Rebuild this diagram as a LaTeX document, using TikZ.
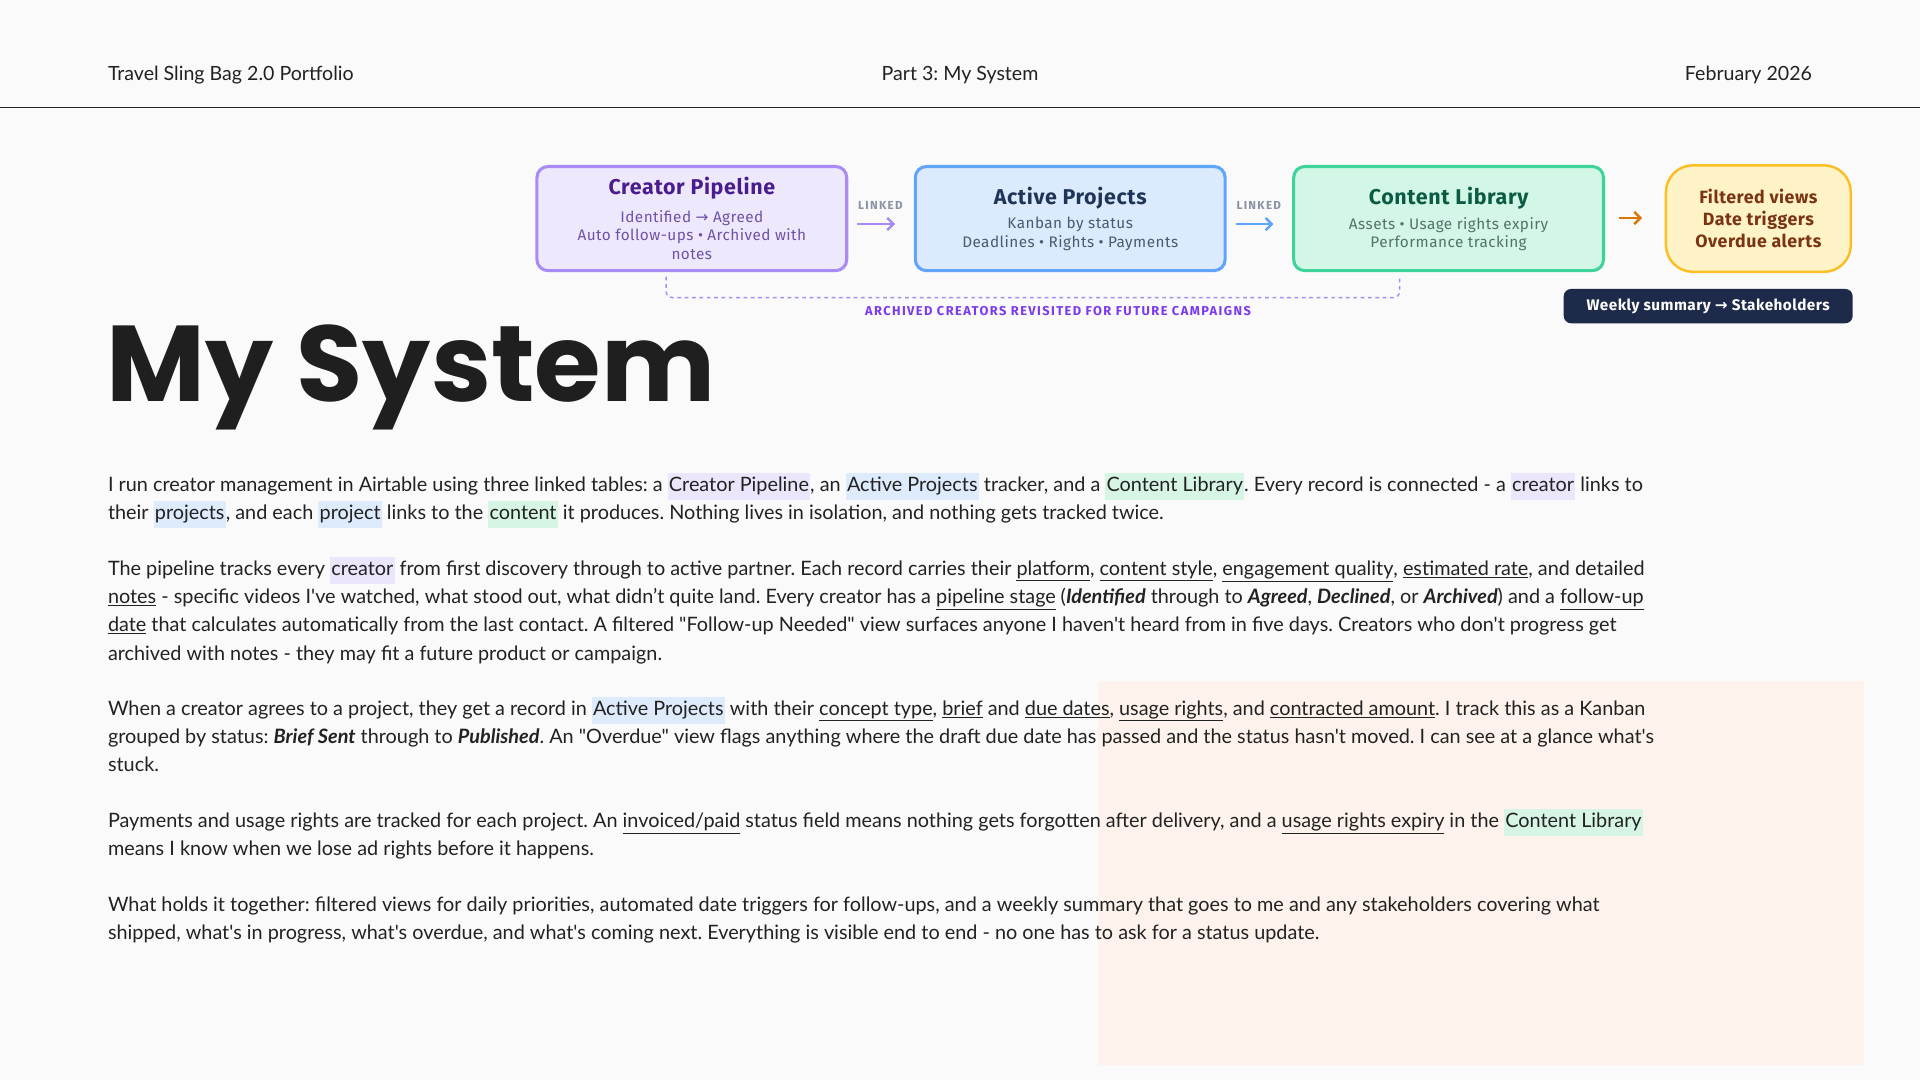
\documentclass[tikz,border=0pt]{standalone}
\usepackage{fontspec}
\setmainfont{Lato}[Ligatures=TeXOff]
\newfontfamily\boxfont{Fira Sans}[LetterSpace=3]
\newfontfamily\widefont{Fira Sans}[LetterSpace=11]
\newfontfamily\arrfont{DejaVu Sans}
\newfontfamily\titlefont{Poppins}
\usetikzlibrary{arrows.meta}
\definecolor{bg}{HTML}{FAFAFA}
\definecolor{peach}{HTML}{FDF3EC}
\definecolor{pB}{HTML}{A98BF5}\definecolor{pF}{HTML}{EEE8FD}\definecolor{pT}{HTML}{4A1D8F}\definecolor{pS}{HTML}{6E52A6}
\definecolor{bB}{HTML}{60A5FA}\definecolor{bF}{HTML}{DCEAFD}\definecolor{bT}{HTML}{1E3557}\definecolor{bS}{HTML}{4B5A70}
\definecolor{gB}{HTML}{3DD39B}\definecolor{gF}{HTML}{D3F7E6}\definecolor{gT}{HTML}{0B5B43}\definecolor{gS}{HTML}{4F7566}
\definecolor{yB}{HTML}{FBBF24}\definecolor{yF}{HTML}{FEF3C7}\definecolor{yT}{HTML}{7A3412}
\definecolor{navy}{HTML}{1E2A4A}\definecolor{ink}{HTML}{222222}
\definecolor{hp}{HTML}{ECE6FC}\definecolor{hb}{HTML}{DEEBFC}\definecolor{hg}{HTML}{D6F5E4}
\definecolor{lk}{HTML}{8A93A3}\definecolor{arch}{HTML}{7C3AED}\definecolor{org}{HTML}{D97706}
\setlength{\fboxsep}{1pt}
\newcommand{\hlp}[1]{\colorbox{hp}{\strut #1}}
\newcommand{\hlb}[1]{\colorbox{hb}{\strut #1}}
\newcommand{\hlg}[1]{\colorbox{hg}{\strut #1}}
\newcommand{\ul}[1]{\underline{#1}}
\newcommand{\ra}{{\arrfont →}}
\frenchspacing
\begin{document}
\begin{tikzpicture}[x=1pt,y=-1pt,
  hdr/.style={font=\fontsize{16}{20}\selectfont,text=ink,anchor=base,inner sep=0},
  body/.style={font=\fontsize{16.2}{20}\selectfont,text=ink,anchor=base west,inner sep=0},
  card/.style={rounded corners=9pt,line width=2.5pt,minimum width=253pt,minimum height=85pt,align=center},
  ttl/.style={font=\boxfont\bfseries\fontsize{17.5}{20}\selectfont},
  sub/.style={font=\boxfont\fontsize{12.5}{15}\selectfont},
  lnk/.style={font=\widefont\bfseries\fontsize{9.5}{10}\selectfont,text=lk},
  arr/.style={-{Straight Barb[length=5pt,width=10pt]},line width=2pt}]
\fill[bg] (0,0) rectangle (1568,882);
\useasboundingbox (0,0) rectangle (1568,882);
\fill[peach] (897,556) rectangle (1522,870);
% header
\node[hdr,anchor=base west] (h1) at (88,66) {Travel Sling Bag 2.0 Portfolio};
\node[hdr] (h2) at (784,66) {Part 3: My System};
\node[hdr,anchor=base east] (h3) at (1480,66) {February 2026};
\draw[line width=1pt,ink] (0,88) -- (1568,88);
% cards
\node[card,draw=pB,fill=pF] (cp) at (565,178.5) {};
\node[ttl,text=pT] at (565,154) {Creator Pipeline};
\node[sub,text=pS,align=center] at (565,192) {Identified \ra{} Agreed\\Auto follow-ups • Archived with\\notes};
\node[card,draw=bB,fill=bF] (ap) at (874,178.5) {};
\node[ttl,text=bT] at (874,162) {Active Projects};
\node[sub,text=bS,align=center] at (874,191) {Kanban by status\\Deadlines • Rights • Payments};
\node[card,draw=gB,fill=gF] (cl) at (1183,178.5) {};
\node[ttl,text=gT] at (1183,162) {Content Library};
\node[sub,text=gS,align=center] at (1183,191) {Assets • Usage rights expiry\\Performance tracking};
\node[rounded corners=22pt,line width=2pt,draw=yB,fill=yF,minimum width=151pt,minimum height=87pt,
  text=yT,align=center,font=\boxfont\bfseries\fontsize{14.5}{18}\selectfont] (fv) at (1436,178.5) {Filtered views\\Date triggers\\Overdue alerts};
\node[rounded corners=6pt,fill=navy,text=white,minimum width=236pt,minimum height=28pt,
  font=\boxfont\bfseries\fontsize{12.5}{14}\selectfont] (ws) at (1395,250) {Weekly summary \ra{} Stakeholders};
% connectors
\node[lnk] (l1) at (719,168) {LINKED};
\node[lnk] (l2) at (1028,168) {LINKED};
\coordinate (a1s) at (700,183); \coordinate (a1e) at (731,183);
\coordinate (a2s) at (1009,183); \coordinate (a2e) at (1040,183);
\coordinate (a3s) at (1322,178); \coordinate (a3e) at (1341,178);
\draw[arr,draw=pB] (a1s) -- (a1e);
\draw[arr,draw=bB] (a2s) -- (a2e);
\draw[arr,draw=org] (a3s) -- (a3e);
\coordinate (d1) at (544,226); \coordinate (d2) at (1143,226);
\draw[dashed,draw=pB,line width=1.2pt,rounded corners=5pt] (d1) -- (544,243) -- (1143,243) -- (d2);
\node[font=\widefont\bfseries\fontsize{10.5}{10}\selectfont,text=arch] (ar) at (864,254) {ARCHIVED CREATORS REVISITED FOR FUTURE CAMPAIGNS};
% title
\node[anchor=base west,inner sep=0,font=\titlefont\bfseries\fontsize{88}{100}\selectfont,text=black!88] (T) at (87,328) {My System};
% body
\node[body] (b1) at (88,401) {I run creator management in Airtable using three linked tables: a \hlp{Creator Pipeline}, an \hlb{Active Projects} tracker, and a \hlg{Content Library}. Every record is connected - a \hlp{creator} links to};
\node[body] (b2) at (88,424) {their \hlb{projects}, and each \hlb{project} links to the \hlg{content} it produces. Nothing lives in isolation, and nothing gets tracked twice.};
\node[body] (b3) at (88,470) {The pipeline tracks every \hlp{creator} from first discovery through to active partner. Each record carries their \ul{platform}, \ul{content style}, \ul{engagement quality}, \ul{estimated rate}, and detailed};
\node[body] (b4) at (88,493) {\ul{notes} - specific videos I've watched, what stood out, what didn’t quite land. Every creator has a \ul{pipeline stage} (\textbf{\textit{Identified}} through to \textbf{\textit{Agreed}}, \textbf{\textit{Declined}}, or \textbf{\textit{Archived}}) and a \ul{follow-up}};
\node[body] (b5) at (88,516) {\ul{date} that calculates automatically from the last contact. A filtered "Follow-up Needed" view surfaces anyone I haven't heard from in five days. Creators who don't progress get};
\node[body] (b6) at (88,539) {archived with notes - they may fit a future product or campaign.};
\node[body] (b7) at (88,584) {When a creator agrees to a project, they get a record in \hlb{Active Projects} with their \ul{concept type}, \ul{brief} and \ul{due dates}, \ul{usage rights}, and \ul{contracted amount}. I track this as a Kanban};
\node[body] (b8) at (88,607) {grouped by status: \textbf{\textit{Brief Sent}} through to \textbf{\textit{Published}}. An "Overdue" view flags anything where the draft due date has passed and the status hasn't moved. I can see at a glance what's};
\node[body] (b9) at (88,630) {stuck.};
\node[body] (b10) at (88,676) {Payments and usage rights are tracked for each project. An \ul{invoiced/paid} status field means nothing gets forgotten after delivery, and a \ul{usage rights expiry} in the \hlg{Content Library}};
\node[body] (b11) at (88,699) {means I know when we lose ad rights before it happens.};
\node[body] (b12) at (88,744) {What holds it together: filtered views for daily priorities, automated date triggers for follow-ups, and a weekly summary that goes to me and any stakeholders covering what};
\node[body] (b13) at (88,767) {shipped, what's in progress, what's overdue, and what's coming next. Everything is visible end to end - no one has to ask for a status update.};
\end{tikzpicture}
\end{document}
